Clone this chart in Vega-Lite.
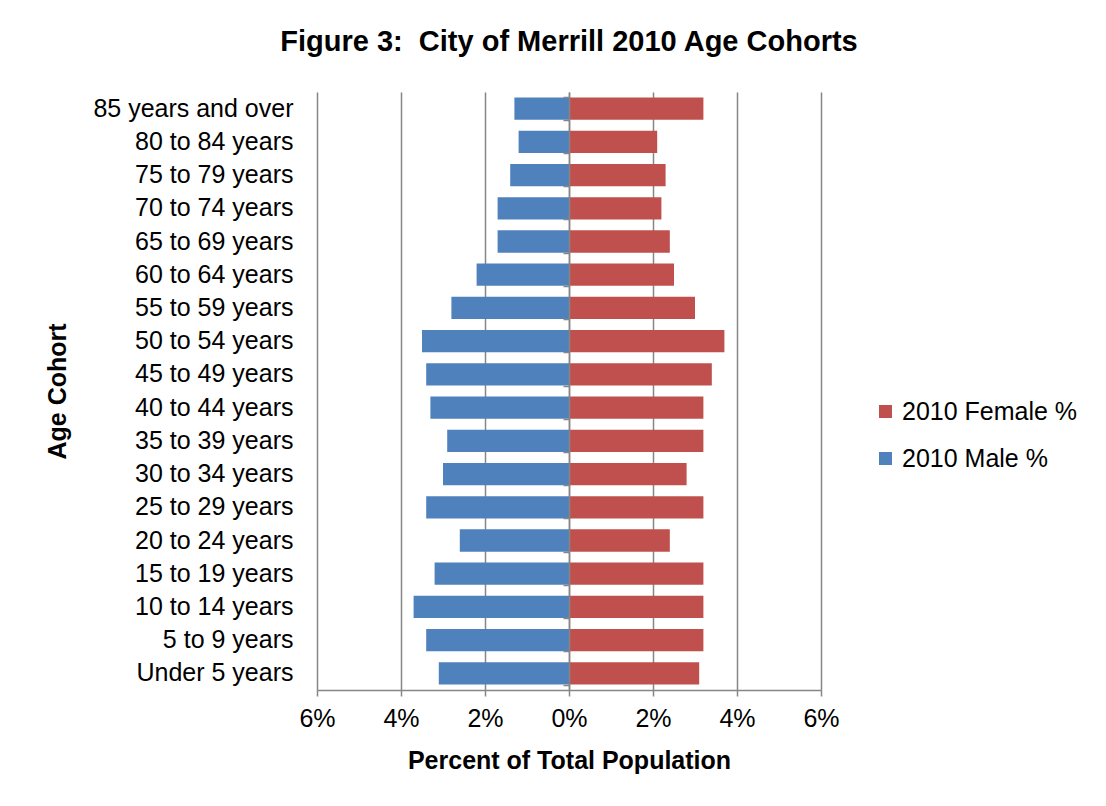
{
  "$schema": "https://vega.github.io/schema/vega-lite/v6.json",
  "width": 504,
  "height": 598,
  "padding": {"left": 45, "top": 28, "right": 10, "bottom": 10},
  "background": "white",
  "title": {
    "text": "Figure 3:\u00a0 City of Merrill 2010 Age Cohorts",
    "font": "Liberation Sans",
    "fontSize": 29,
    "fontWeight": "bold",
    "color": "black",
    "anchor": "middle",
    "offset": 35
  },
  "data": {
    "values": [
      {"age": "85 years and over", "series": "2010 Male %", "pct": -1.3},
      {"age": "85 years and over", "series": "2010 Female %", "pct": 3.2},
      {"age": "80 to 84 years", "series": "2010 Male %", "pct": -1.2},
      {"age": "80 to 84 years", "series": "2010 Female %", "pct": 2.1},
      {"age": "75 to 79 years", "series": "2010 Male %", "pct": -1.4},
      {"age": "75 to 79 years", "series": "2010 Female %", "pct": 2.3},
      {"age": "70 to 74 years", "series": "2010 Male %", "pct": -1.7},
      {"age": "70 to 74 years", "series": "2010 Female %", "pct": 2.2},
      {"age": "65 to 69 years", "series": "2010 Male %", "pct": -1.7},
      {"age": "65 to 69 years", "series": "2010 Female %", "pct": 2.4},
      {"age": "60 to 64 years", "series": "2010 Male %", "pct": -2.2},
      {"age": "60 to 64 years", "series": "2010 Female %", "pct": 2.5},
      {"age": "55 to 59 years", "series": "2010 Male %", "pct": -2.8},
      {"age": "55 to 59 years", "series": "2010 Female %", "pct": 3.0},
      {"age": "50 to 54 years", "series": "2010 Male %", "pct": -3.5},
      {"age": "50 to 54 years", "series": "2010 Female %", "pct": 3.7},
      {"age": "45 to 49 years", "series": "2010 Male %", "pct": -3.4},
      {"age": "45 to 49 years", "series": "2010 Female %", "pct": 3.4},
      {"age": "40 to 44 years", "series": "2010 Male %", "pct": -3.3},
      {"age": "40 to 44 years", "series": "2010 Female %", "pct": 3.2},
      {"age": "35 to 39 years", "series": "2010 Male %", "pct": -2.9},
      {"age": "35 to 39 years", "series": "2010 Female %", "pct": 3.2},
      {"age": "30 to 34 years", "series": "2010 Male %", "pct": -3.0},
      {"age": "30 to 34 years", "series": "2010 Female %", "pct": 2.8},
      {"age": "25 to 29 years", "series": "2010 Male %", "pct": -3.4},
      {"age": "25 to 29 years", "series": "2010 Female %", "pct": 3.2},
      {"age": "20 to 24 years", "series": "2010 Male %", "pct": -2.6},
      {"age": "20 to 24 years", "series": "2010 Female %", "pct": 2.4},
      {"age": "15 to 19 years", "series": "2010 Male %", "pct": -3.2},
      {"age": "15 to 19 years", "series": "2010 Female %", "pct": 3.2},
      {"age": "10 to 14 years", "series": "2010 Male %", "pct": -3.7},
      {"age": "10 to 14 years", "series": "2010 Female %", "pct": 3.2},
      {"age": "5 to 9 years", "series": "2010 Male %", "pct": -3.4},
      {"age": "5 to 9 years", "series": "2010 Female %", "pct": 3.2},
      {"age": "Under 5 years", "series": "2010 Male %", "pct": -3.1},
      {"age": "Under 5 years", "series": "2010 Female %", "pct": 3.1}
    ]
  },
  "layer": [
    {
      "mark": {"type": "bar"},
      "encoding": {
        "y": {
          "field": "age",
          "type": "nominal",
          "sort": null,
          "scale": {"paddingInner": 0.33, "paddingOuter": 0.165},
          "axis": {
            "title": "Age Cohort",
            "titleFont": "Liberation Sans",
            "titleFontSize": 25,
            "titleFontWeight": "bold",
            "titleColor": "black",
            "titlePadding": 47,
            "labelFont": "Liberation Sans",
            "labelFontSize": 25,
            "labelColor": "black",
            "labelPadding": 24,
            "labelLimit": 400,
            "domain": false,
            "ticks": false,
            "grid": false
          }
        },
        "x": {
          "field": "pct",
          "type": "quantitative",
          "stack": null,
          "scale": {"domain": [-6, 6], "nice": false},
          "axis": {
            "title": "Percent of Total Population",
            "titleFont": "Liberation Sans",
            "titleFontSize": 25,
            "titleFontWeight": "bold",
            "titleColor": "black",
            "titlePadding": 17,
            "values": [-6, -4, -2, 0, 2, 4, 6],
            "labelExpr": "abs(datum.value) + '%'",
            "labelFont": "Liberation Sans",
            "labelFontSize": 25,
            "labelColor": "black",
            "labelPadding": 10,
            "labelFlush": false,
            "grid": true,
            "gridColor": "#868686",
            "gridWidth": 1.5,
            "domain": true,
            "domainColor": "#868686",
            "domainWidth": 1.5,
            "ticks": true,
            "tickColor": "#868686",
            "tickWidth": 1.5,
            "tickSize": 6
          }
        },
        "color": {
          "field": "series",
          "type": "nominal",
          "scale": {
            "domain": ["2010 Female %", "2010 Male %"],
            "range": ["#C0504D", "#4F81BD"]
          },
          "legend": {
            "title": null,
            "orient": "none",
            "legendX": 556,
            "legendY": 307,
            "symbolType": "square",
            "symbolSize": 170,
            "symbolStrokeWidth": 0,
            "symbolOpacity": 1,
            "labelFont": "Liberation Sans",
            "labelFontSize": 25,
            "labelColor": "black",
            "labelOffset": 4,
            "labelLimit": 400,
            "rowPadding": 21
          }
        }
      }
    },
    {
      "mark": {"type": "bar", "opacity": 0},
      "encoding": {
        "y": {
          "field": "age",
          "type": "nominal",
          "sort": null,
          "axis": {
            "title": null,
            "labels": false,
            "orient": "left",
            "offset": -252,
            "domain": true,
            "domainColor": "#868686",
            "domainWidth": 1.5,
            "ticks": true,
            "tickBand": "extent",
            "tickColor": "#868686",
            "tickWidth": 1.5,
            "tickSize": 6,
            "grid": false,
            "zindex": 1
          }
        },
        "x": {"field": "pct", "type": "quantitative", "stack": null}
      }
    }
  ],
  "resolve": {"axis": {"y": "independent"}},
  "config": {
    "view": {"stroke": null},
    "font": "Liberation Sans"
  }
}
